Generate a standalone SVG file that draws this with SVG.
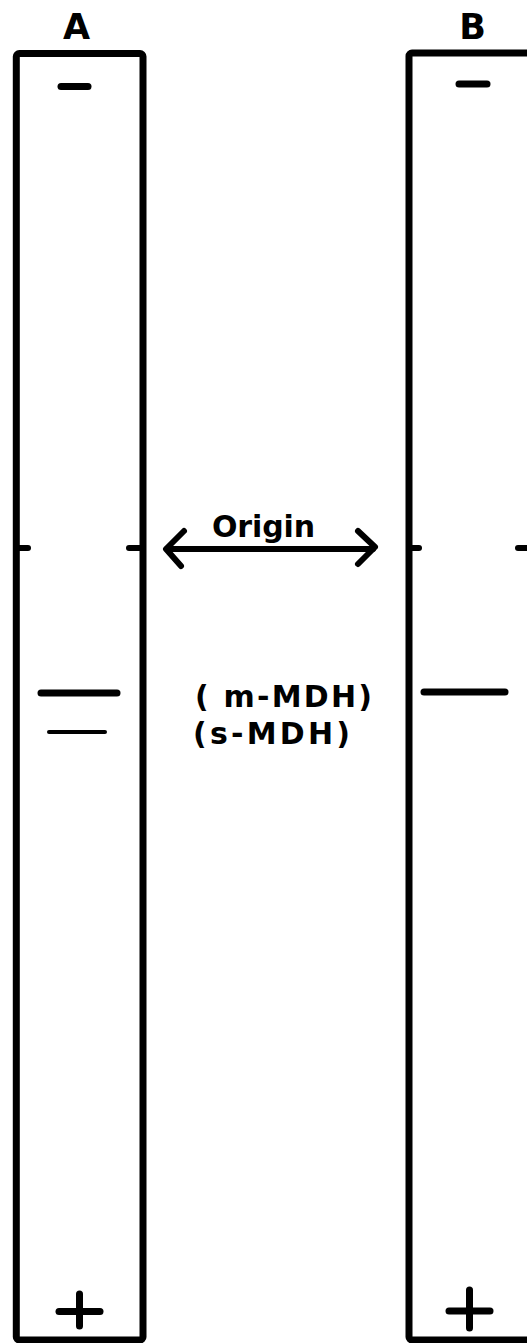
<svg xmlns="http://www.w3.org/2000/svg" width="527" height="1343" viewBox="0 0 527 1343">
<style>
.box{fill:none;stroke:#000;stroke-width:7;stroke-linejoin:round}
.ln{fill:none;stroke:#000;stroke-linecap:round;stroke-linejoin:round}
.lbl{font-family:"DejaVu Sans",sans-serif;font-weight:bold;fill:#000}
</style>
<rect width="527" height="1343" fill="#fff"/>
<g id="laneA">
<rect class="box" x="16.3" y="53.5" width="126.7" height="1286.5" rx="3"/>
<text class="lbl" x="76.5" y="39" font-size="35" text-anchor="middle">A</text>
<line class="ln" x1="61" y1="86.5" x2="88" y2="86.5" stroke-width="7"/>
<line class="ln" x1="16" y1="548" x2="28" y2="548" stroke-width="6"/>
<line class="ln" x1="129" y1="548" x2="143" y2="548" stroke-width="6"/>
<line class="ln" x1="41" y1="693" x2="117" y2="693" stroke-width="7"/>
<line class="ln" x1="49" y1="732" x2="105" y2="732" stroke-width="4"/>
<line class="ln" x1="59" y1="1311.5" x2="100" y2="1311.5" stroke-width="7"/>
<line class="ln" x1="79.5" y1="1294" x2="79.5" y2="1326" stroke-width="7"/>
</g>
<g id="laneB">
<rect class="box" x="409" y="53" width="127" height="1287" rx="3"/>
<text class="lbl" x="472.5" y="39" font-size="35" text-anchor="middle">B</text>
<line class="ln" x1="459" y1="84" x2="487" y2="84" stroke-width="7"/>
<line class="ln" x1="409" y1="548" x2="419" y2="548" stroke-width="6"/>
<line class="ln" x1="518" y1="548" x2="536" y2="548" stroke-width="6"/>
<line class="ln" x1="424" y1="692" x2="505" y2="692" stroke-width="7"/>
<line class="ln" x1="449" y1="1311" x2="490" y2="1311" stroke-width="7"/>
<line class="ln" x1="469.5" y1="1290" x2="469.5" y2="1328" stroke-width="7"/>
</g>
<g id="labels">
<text class="lbl" x="212" y="537" font-size="30" textLength="103">Origin</text>
<text class="lbl" x="195" y="707" font-size="30" textLength="177">( m-MDH)</text>
<text class="lbl" x="193" y="744" font-size="30" textLength="157">(s-MDH)</text>
</g>
<g id="connectors">
<line class="ln" x1="167" y1="549" x2="373" y2="549" stroke-width="6"/>
<polyline class="ln" points="184,531 166,549 181,566" stroke-width="6"/>
<polyline class="ln" points="358,531 375,547 358,564" stroke-width="6"/>
</g>
</svg>
